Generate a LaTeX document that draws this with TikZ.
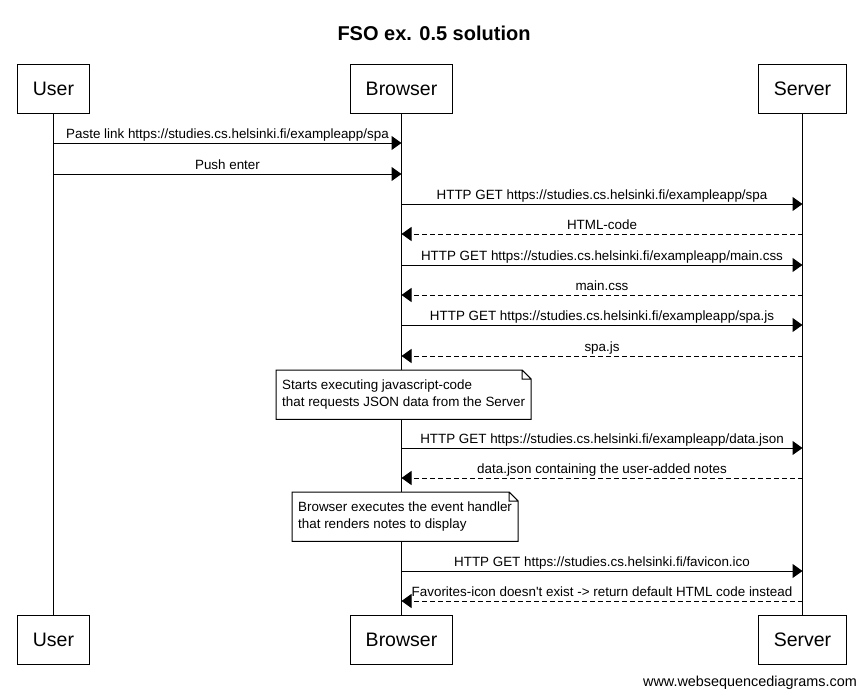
\documentclass[tikz,border=0pt]{standalone}
\usepackage{fontspec}
\setmainfont{Liberation Sans}[Ligatures=TeXOff]
\usetikzlibrary{arrows.meta}

\begin{document}
\begin{tikzpicture}
                [x=1pt, y=-1pt,
                psty/.style={draw, fill=white, line width=1pt, inner xsep=15pt, minimum height=49pt, font=\fontsize{19.5}{23}\selectfont},
                msty/.style={-{Triangle[length=10pt, width=14pt]}, line width=1pt},
                rsty/.style={msty, dash pattern=on 5pt off 3pt},
                lsty/.style={above, inner sep=0pt, yshift=4pt, text depth=0pt, font=\fontsize{13.4}{16}\selectfont},
                notesty/.style={anchor=north west, fill=white, inner xsep=6pt, inner ysep=0pt, minimum height=49pt, align=left, font=\fontsize{13.4}{16.5}\selectfont}]
                \path[use as bounding box, fill=white] (0,0) rectangle (862,699);
                % title
                \node[font=\fontsize{20}{24}\selectfont\bfseries] (title) at (434,33) {FSO ex. 0.5 solution};
                % participants
                \node[psty] (user)     at (53.5,88.5)  {User};
                \node[psty] (browser)  at (401.5,88.5) {Browser};
                \node[psty] (server)   at (802.5,88.5) {Server};
                \node[psty] (userb)    at (53.5,639.5)  {User};
                \node[psty] (browserb) at (401.5,639.5) {Browser};
                \node[psty] (serverb)  at (802.5,639.5) {Server};
                % lifelines
                \draw[line width=1pt] (user.south) -- (userb.north);
                \draw[line width=1pt] (browser.south) -- (browserb.north);
                \draw[line width=1pt] (server.south) -- (serverb.north);
                % message rows
                \foreach \n/\y in {1/143, 2/174, 3/204, 4/234, 5/265, 6/295, 7/325, 8/356, 9/448, 10/478, 11/571, 12/601}
                    \coordinate (m\n) at (0,\y);
                % messages
                \draw[msty] (user |- m1) -- node[lsty] {Paste link https://studies.cs.helsinki.fi/exampleapp/spa} (browser |- m1);
                \draw[msty] (user |- m2) -- node[lsty] {Push enter} (browser |- m2);
                \draw[msty] (browser |- m3) -- node[lsty] {HTTP GET https://studies.cs.helsinki.fi/exampleapp/spa} (server |- m3);
                \draw[rsty] (server |- m4) -- node[lsty] {HTML-code} (browser |- m4);
                \draw[msty] (browser |- m5) -- node[lsty] {HTTP GET https://studies.cs.helsinki.fi/exampleapp/main.css} (server |- m5);
                \draw[rsty] (server |- m6) -- node[lsty] {main.css} (browser |- m6);
                \draw[msty] (browser |- m7) -- node[lsty] {HTTP GET https://studies.cs.helsinki.fi/exampleapp/spa.js} (server |- m7);
                \draw[rsty] (server |- m8) -- node[lsty] {spa.js} (browser |- m8);
                \draw[msty] (browser |- m9) -- node[lsty] {HTTP GET https://studies.cs.helsinki.fi/exampleapp/data.json} (server |- m9);
                \draw[rsty] (server |- m10) -- node[lsty] {data.json containing the user-added notes} (browser |- m10);
                \draw[msty] (browser |- m11) -- node[lsty] {HTTP GET https://studies.cs.helsinki.fi/favicon.ico} (server |- m11);
                \draw[rsty] (server |- m12) -- node[lsty] {Favorites-icon doesn't exist -> return default HTML code instead} (browser |- m12);
                % notes
                \node[notesty] (note1) at (276,370) {Starts executing javascript-code\\that requests JSON data from the Server};
                \node[notesty] (note2) at (292,492) {Browser executes the event handler\\that renders notes to display};
                \foreach \nt in {note1, note2}
                    \draw[line width=1pt] (\nt.south west) -- (\nt.north west) -- ([xshift=-9pt]\nt.north east) -- ([yshift=-9pt]\nt.north east) -- (\nt.south east) -- cycle
                        ([xshift=-9pt]\nt.north east) -- ([xshift=-9pt, yshift=-9pt]\nt.north east) -- ([yshift=-9pt]\nt.north east);
                % footer
                \node[anchor=east, inner sep=0pt, font=\fontsize{14.4}{17}\selectfont] (footer) at (857,683) {www.websequencediagrams.com};
            \end{tikzpicture}
\end{document}
